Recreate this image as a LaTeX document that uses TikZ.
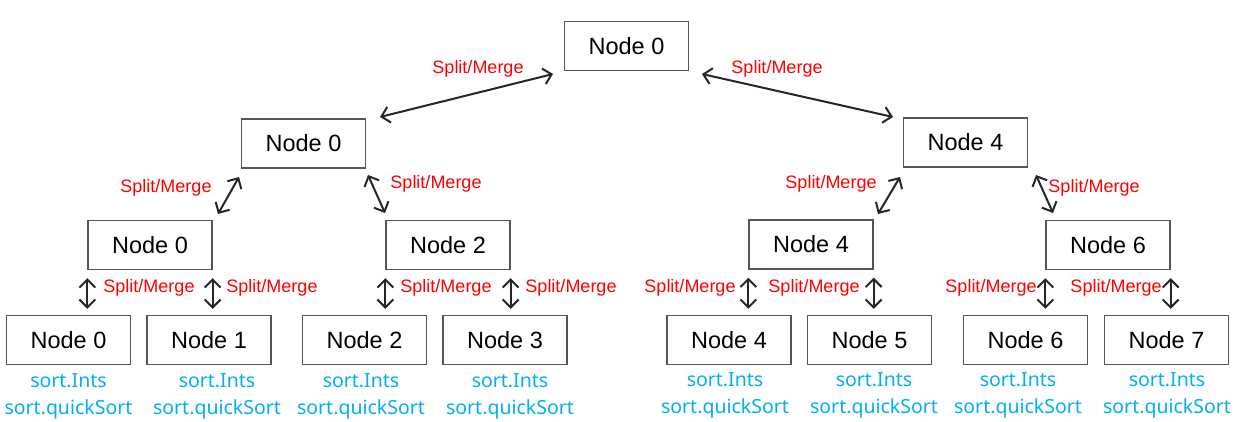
\documentclass[tikz,border=0pt]{standalone}
\usepackage{fontspec}
\setmainfont{Liberation Sans}
\newfontfamily\bluefont{Noto Sans}
\usetikzlibrary{arrows.meta,calc}
\definecolor{sortblue}{RGB}{0,176,240}
\definecolor{boxgray}{RGB}{85,85,85}
\begin{document}
\begin{tikzpicture}[x=1pt,y=-1pt,
  box/.style={draw=boxgray,line width=1.3pt,minimum width=124pt,minimum height=49pt,inner sep=0pt,font=\fontsize{23.5}{26}\selectfont},
  sm/.style={text=red,font=\fontsize{18}{20}\selectfont,inner sep=0pt},
  lnk/.style={{Straight Barb[length=8pt,width=16pt]}-{Straight Barb[length=8pt,width=16pt]},line width=2pt,draw=black!85},
  st/.style={text=sortblue,font=\bluefont\fontsize{19.5}{27}\selectfont,align=center,inner sep=0pt}]
\useasboundingbox (0,0) rectangle (1237,421);
% boxes
\node[box] (r) at (626.5,46) {Node 0};
\node[box] (a) at (303.5,143.5) {Node 0};
\node[box] (b) at (965.5,142.5) {Node 4};
\node[box] (a0) at (150,245) {Node 0};
\node[box] (a2) at (448,245) {Node 2};
\node[box] (b4) at (811,244.5) {Node 4};
\node[box] (b6) at (1108,245) {Node 6};
\node[box] (l0) at (68.5,340) {Node 0};
\node[box] (l1) at (209,340) {Node 1};
\node[box] (l2) at (364.5,340) {Node 2};
\node[box] (l3) at (505,340) {Node 3};
\node[box] (l4) at (729,340) {Node 4};
\node[box] (l5) at (869.5,340) {Node 5};
\node[box] (l6) at (1025.5,340) {Node 6};
\node[box] (l7) at (1166.5,340) {Node 7};
% sort labels
\node[st] (t0) at (68.5,396) {sort.Ints\\sort.quickSort};
\node[st] (t1) at (217,396) {sort.Ints\\sort.quickSort};
\node[st] (t2) at (361,396) {sort.Ints\\sort.quickSort};
\node[st] (t3) at (510,396) {sort.Ints\\sort.quickSort};
\node[st] (t4) at (725,395) {sort.Ints\\sort.quickSort};
\node[st] (t5) at (874,395) {sort.Ints\\sort.quickSort};
\node[st] (t6) at (1018,395) {sort.Ints\\sort.quickSort};
\node[st] (t7) at (1167,395) {sort.Ints\\sort.quickSort};
% arrow endpoints
\coordinate (ra1) at (553,74);   \coordinate (ra2) at (380,117);
\coordinate (rb1) at (702,74);   \coordinate (rb2) at (893,117);
\coordinate (aa01) at (239,177); \coordinate (aa02) at (218,214);
\coordinate (aa21) at (368,175); \coordinate (aa22) at (385,213);
\coordinate (bb41) at (900,177); \coordinate (bb42) at (878,214);
\coordinate (bb61) at (1036,175); \coordinate (bb62) at (1053,213);
\draw[lnk] (ra1) -- (ra2);
\draw[lnk] (rb1) -- (rb2);
\draw[lnk] (aa01) -- (aa02);
\draw[lnk] (aa21) -- (aa22);
\draw[lnk] (bb41) -- (bb42);
\draw[lnk] (bb61) -- (bb62);
% vertical arrows
\foreach \p/\c/\s in {a0/l0/west, a0/l1/east, a2/l2/west, a2/l3/east, b4/l4/west, b4/l5/east, b6/l6/west, b6/l7/east}{
  \draw[lnk] ($(\p.south \s)+(0,8)$) -- ($(\p.south \s |- \c.north)+(0,-6)$);
}
% split/merge labels
\node[sm] (s1) at (478,69) {Split/Merge};
\node[sm] (s2) at (777,69) {Split/Merge};
\node[sm] (s3) at (166,188) {Split/Merge};
\node[sm] (s4) at (436,184) {Split/Merge};
\node[sm] (s5) at (831,184) {Split/Merge};
\node[sm] (s6) at (1094,188) {Split/Merge};
\node[sm] (s7) at (149,288) {Split/Merge};
\node[sm] (s8) at (272,288) {Split/Merge};
\node[sm] (s9) at (446,288) {Split/Merge};
\node[sm] (s10) at (571,288) {Split/Merge};
\node[sm] (s11) at (690,288) {Split/Merge};
\node[sm] (s12) at (814,288) {Split/Merge};
\node[sm] (s13) at (991,288) {Split/Merge};
\node[sm] (s14) at (1116,288) {Split/Merge};
\end{tikzpicture}
\end{document}
